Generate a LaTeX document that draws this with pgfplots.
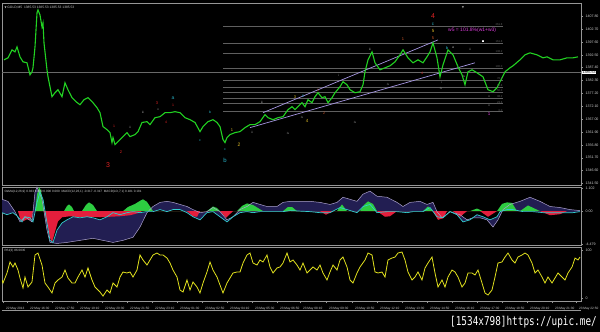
\documentclass[border=0pt]{standalone}
\usepackage{fontspec}
\setmainfont{Liberation Sans}
\newfontfamily\dejavu{DejaVu Sans}
\newfontfamily\wmfont{DejaVu Sans Mono}
\usepackage{pgfplots}
\usepackage{pgfplotstable}
\pgfplotsset{compat=1.18}

\definecolor{axgray}{RGB}{150,150,150}
\definecolor{curgray}{RGB}{105,105,105}
\definecolor{lbl}{RGB}{205,205,205}
\definecolor{pricegreen}{RGB}{34,210,34}
\definecolor{navyband}{RGB}{34,30,82}
\definecolor{lavline}{RGB}{172,162,205}
\definecolor{cyanline}{RGB}{50,205,205}
\definecolor{osmagreen}{RGB}{45,205,65}
\definecolor{osmared}{RGB}{228,30,60}
\definecolor{rsiyellow}{RGB}{225,225,30}
\definecolor{chan}{RGB}{165,150,225}
\definecolor{fibgray}{RGB}{95,95,95}
\definecolor{wred}{RGB}{225,35,35}
\definecolor{wcyan}{RGB}{40,180,200}
\definecolor{wyel}{RGB}{225,190,40}
\definecolor{worange}{RGB}{215,90,40}
\definecolor{wmag}{RGB}{220,60,220}
\definecolor{wgray}{RGB}{170,170,170}

\pgfplotstableread{
x p
4 1390.52
8 1391.31
12 1394.48
15 1393.68
17 1395.66
20 1391.71
23 1389.73
27 1389.34
28 1387.76
30 1384.59
32 1385.78
33 1387.36
35 1395.66
37 1409.10
38 1410.29
40 1408.31
42 1403.57
43 1405.15
44 1397.24
47 1386.57
48 1383.80
50 1379.85
52 1375.90
55 1377.48
58 1378.66
62 1375.90
65 1381.43
68 1378.66
72 1375.50
76 1373.92
80 1372.73
84 1374.71
88 1375.50
90 1374.71
93 1373.52
97 1371.55
100 1369.57
103 1364.04
107 1362.85
110 1361.67
112 1357.71
113 1359.69
115 1356.92
117 1357.71
120 1358.90
123 1360.08
127 1361.67
130 1360.08
135 1360.88
138 1362.06
142 1365.68
147 1366.01
150 1364.83
155 1367.59
160 1367.99
165 1369.57
170 1369.57
175 1369.97
180 1369.57
185 1367.59
190 1366.80
195 1365.68
200 1362.06
203 1364.04
208 1366.01
213 1366.80
217 1365.68
220 1364.04
223 1358.90
225 1357.71
227 1359.69
230 1360.88
235 1361.67
240 1362.06
245 1363.64
250 1364.83
255 1364.83
260 1366.01
265 1368.78
268 1367.59
273 1366.80
278 1367.59
283 1367.99
288 1370.76
292 1371.94
295 1370.76
298 1371.94
302 1373.52
305 1371.94
308 1374.71
312 1373.52
315 1375.90
318 1377.48
322 1375.50
325 1375.90
328 1373.52
332 1375.50
335 1377.48
340 1379.85
343 1381.83
347 1380.64
350 1378.66
355 1377.48
360 1377.87
363 1380.64
365 1385.78
368 1390.52
372 1393.68
375 1389.34
380 1386.57
385 1387.36
390 1388.15
395 1389.73
400 1392.50
403 1394.48
408 1391.31
413 1389.34
418 1390.52
423 1389.34
427 1391.71
430 1393.68
433 1397.24
437 1391.31
440 1383.80
443 1388.55
448 1394.48
453 1392.50
458 1387.76
462 1384.59
465 1380.64
468 1385.78
472 1386.57
477 1385.38
483 1383.80
488 1378.66
493 1377.87
497 1379.45
500 1381.83
505 1385.78
510 1387.36
513 1388.15
520 1390.52
525 1392.50
530 1393.29
537 1392.50
543 1391.31
547 1391.71
553 1390.52
560 1390.52
567 1391.31
573 1391.31
578 1391.71
}\pricetab

\pgfplotstableread{
x v
2 -0.075
7 -0.175
13 -0.075
18 -0.275
22 -0.525
25 -0.275
30 -0.325
33 -0.525
37 0.425
40 0.925
43 0.575
47 -0.575
50 -1.425
53 -1.525
57 -0.925
62 -0.575
67 -0.425
73 -0.275
80 -0.325
87 -0.275
93 -0.325
100 -0.425
107 -0.275
113 -0.075
120 -0.175
127 -0.075
133 -0.025
140 -0.075
147 -0.025
153 -0.025
160 0.075
167 -0.025
173 0.075
180 0.075
187 -0.075
193 -0.275
200 -0.425
207 -0.075
213 -0.025
220 -0.275
227 -0.525
233 -0.275
240 -0.075
247 -0.025
253 -0.075
260 -0.025
267 -0.025
273 -0.025
283 -0.025
290 0.025
300 0.000
310 -0.025
320 -0.075
330 -0.075
340 0.175
347 0.075
357 -0.075
363 0.225
370 0.325
377 -0.075
387 -0.025
397 -0.025
407 -0.075
413 -0.025
423 -0.025
430 0.175
437 -0.275
443 -0.325
450 -0.025
457 -0.175
463 -0.525
470 -0.425
477 -0.175
483 -0.275
490 -0.425
497 -0.275
500 -0.025
507 0.075
513 0.075
523 -0.025
533 -0.025
543 -0.075
553 -0.075
563 -0.075
573 -0.075
580 -0.025
}\cyantab

\pgfplotstableread{
x v
2 0.575
8 0.475
15 -0.025
20 -0.525
25 -0.275
32 -0.525
35 0.925
37 1.175
42 0.575
47 -0.925
50 -1.525
57 -1.575
67 -1.525
80 -1.425
93 -1.325
103 -1.425
113 -1.525
123 -1.425
133 -1.275
140 -0.775
147 -0.075
153 0.225
160 0.425
167 0.475
173 0.425
180 0.325
187 0.225
193 0.075
200 -0.075
207 -0.025
213 0.175
220 -0.025
227 -0.425
233 -0.275
240 0.075
247 0.225
253 0.425
260 0.325
267 0.225
277 0.225
283 0.425
290 0.475
300 0.475
310 0.475
320 0.425
330 0.325
337 0.425
343 0.675
350 0.575
357 0.475
363 0.825
370 0.975
377 0.725
387 0.675
397 0.425
403 0.225
410 0.425
420 0.475
427 0.325
433 0.425
437 -0.025
442 -0.325
450 -0.025
460 -0.175
467 -0.425
473 -0.325
480 -0.325
487 -0.425
493 -0.775
498 -0.425
503 0.075
510 0.325
520 0.475
530 0.675
540 0.475
550 0.225
560 0.175
570 0.075
580 0.025
}\lavtab

% band between cyan (forward) and lavender (reversed)
\pgfplotstableread{
x v
2 -0.075
7 -0.175
13 -0.075
18 -0.275
22 -0.525
25 -0.275
30 -0.325
33 -0.525
37 0.425
40 0.925
43 0.575
47 -0.575
50 -1.425
53 -1.525
57 -0.925
62 -0.575
67 -0.425
73 -0.275
80 -0.325
87 -0.275
93 -0.325
100 -0.425
107 -0.275
113 -0.075
120 -0.175
127 -0.075
133 -0.025
140 -0.075
147 -0.025
153 -0.025
160 0.075
167 -0.025
173 0.075
180 0.075
187 -0.075
193 -0.275
200 -0.425
207 -0.075
213 -0.025
220 -0.275
227 -0.525
233 -0.275
240 -0.075
247 -0.025
253 -0.075
260 -0.025
267 -0.025
273 -0.025
283 -0.025
290 0.025
300 0.000
310 -0.025
320 -0.075
330 -0.075
340 0.175
347 0.075
357 -0.075
363 0.225
370 0.325
377 -0.075
387 -0.025
397 -0.025
407 -0.075
413 -0.025
423 -0.025
430 0.175
437 -0.275
443 -0.325
450 -0.025
457 -0.175
463 -0.525
470 -0.425
477 -0.175
483 -0.275
490 -0.425
497 -0.275
500 -0.025
507 0.075
513 0.075
523 -0.025
533 -0.025
543 -0.075
553 -0.075
563 -0.075
573 -0.075
580 -0.025
580 0.025
570 0.075
560 0.175
550 0.225
540 0.475
530 0.675
520 0.475
510 0.325
503 0.075
498 -0.425
493 -0.775
487 -0.425
480 -0.325
473 -0.325
467 -0.425
460 -0.175
450 -0.025
442 -0.325
437 -0.025
433 0.425
427 0.325
420 0.475
410 0.425
403 0.225
397 0.425
387 0.675
377 0.725
370 0.975
363 0.825
357 0.475
350 0.575
343 0.675
337 0.425
330 0.325
320 0.425
310 0.475
300 0.475
290 0.475
283 0.425
277 0.225
267 0.225
260 0.325
253 0.425
247 0.225
240 0.075
233 -0.275
227 -0.425
220 -0.025
213 0.175
207 -0.025
200 -0.075
193 0.075
187 0.225
180 0.325
173 0.425
167 0.475
160 0.425
153 0.225
147 -0.075
140 -0.775
133 -1.275
123 -1.425
113 -1.525
103 -1.425
93 -1.325
80 -1.425
67 -1.525
57 -1.575
50 -1.525
47 -0.925
42 0.575
37 1.175
35 0.925
32 -0.525
25 -0.275
20 -0.525
15 -0.025
8 0.475
2 0.575
}\bandtab

\pgfplotstableread{
x v
35 0
37 0.8
39 1.175
41 1.0
43 0.3
44 0
64 0
67 0.25
69 0.325
72 0.2
74 0
82 0
86 0.3
89 0.425
93 0.3
97 0
123 0
128 0.2
135 0.35
140 0.5
143 0.575
147 0.45
153 0
207 0
211 0.15
213 0.225
217 0.15
220 0
237 0
242 0.25
247 0.375
253 0.3
258 0.15
263 0
283 0
288 0.2
292 0.2
297 0
337 0
342 0.325
347 0
360 0
364 0.3
368 0.475
373 0.35
377 0
423 0
428 0.225
433 0
470 0
477 0.125
483 0
497 0
502 0.35
507 0.425
512 0.4
517 0
520 0
528 0.275
540 0
}\osmapos

\pgfplotstableread{
x v
18 0
20 -0.35
23 -0.5
27 -0.4
31 -0.45
33 0
44 0
47 -0.6
50 -1.3
52 -1.525
55 -1.0
58 -0.5
62 -0.3
70 -0.25
80 -0.3
90 -0.275
100 -0.3
110 -0.275
120 -0.25
130 -0.2
138 -0.1
142 0
187 0
193 -0.25
197 -0.275
200 0
220 0
226 -0.325
233 0
320 0
326 -0.175
333 0
377 0
385 -0.275
390 -0.25
397 0
433 0
438 -0.425
443 -0.35
447 0
453 0
460 -0.275
467 0
480 0
488 -0.275
497 0
540 0
550 -0.2
560 -0.15
567 0
}\osmaneg

\pgfplotstableread{
x r
2 37.5
3 31.2
7 52.1
10 75.0
13 64.6
15 72.9
18 58.3
20 41.7
23 20.8
25 43.7
28 22.9
32 33.3
35 89.6
38 93.7
42 68.7
45 31.2
48 22.9
52 10.4
55 31.2
58 37.5
62 43.7
65 58.3
68 41.7
72 31.2
75 31.2
78 43.7
82 58.3
85 43.7
88 62.5
92 37.5
95 22.9
100 12.5
103 4.0
107 16.7
110 10.4
113 31.2
117 22.9
120 43.7
123 54.2
127 52.1
130 54.2
133 43.7
137 58.3
140 89.6
143 79.2
147 68.7
150 79.2
153 89.6
157 93.7
160 89.6
163 89.6
167 83.3
170 72.9
173 58.3
177 43.7
180 16.7
183 12.5
187 37.5
190 16.7
193 33.3
197 22.9
200 10.4
203 31.2
207 54.2
210 75.0
213 58.3
217 43.7
220 27.1
223 10.4
227 31.2
230 41.7
233 52.1
237 54.2
240 54.2
243 72.9
247 89.6
250 93.7
253 72.9
257 68.7
260 79.2
263 75.0
267 89.6
270 64.6
273 52.1
277 62.5
280 64.6
283 72.9
287 93.7
290 75.0
293 79.2
297 68.7
300 58.3
303 72.9
307 52.1
310 58.3
313 64.6
317 58.3
320 68.7
323 52.1
327 37.5
330 54.2
333 68.7
337 58.3
340 79.2
343 85.4
347 64.6
350 37.5
353 31.2
357 52.1
360 64.6
365 79.2
368 93.7
372 89.6
375 54.2
378 52.1
382 54.2
385 43.7
388 79.2
392 83.3
395 85.4
398 93.7
402 95.8
405 79.2
408 54.2
412 37.5
415 43.7
418 54.2
422 37.5
425 62.5
428 72.9
432 85.4
435 52.1
438 22.9
442 37.5
445 22.9
448 43.7
452 58.3
455 54.2
458 43.7
462 22.9
465 31.2
468 52.1
472 52.1
475 47.9
478 58.3
482 31.2
485 10.4
488 6.2
492 16.7
495 43.7
498 72.9
502 75.0
505 85.4
508 93.7
512 79.2
515 72.9
518 85.4
522 89.6
525 93.7
528 89.6
532 72.9
535 52.1
538 58.3
542 43.7
545 31.2
548 43.7
552 31.2
555 41.7
558 52.1
562 43.7
565 37.5
568 52.1
572 64.6
575 83.3
578 79.2
580 85.4
}\rsitab

\pgfplotsset{
  mtpanel/.style={
    scale only axis, width=579bp, xmin=2, xmax=581,
    anchor=south west,
    axis background/.style={fill=black},
    axis line style={draw=axgray, line width=0.6bp},
    ytick pos=right, yticklabel pos=right,
    tick align=outside, major tick length=2bp,
    tick style={draw=axgray, line width=0.4bp},
    ticklabel style={font=\fontsize{3.6}{4}\selectfont, text=lbl},
    yticklabel style={anchor=west, xshift=-1bp},
  },
}
\newcommand\wl[5]{\node[font=\fontsize{#5}{#5}\selectfont, text=#3, inner sep=0pt] at (axis cs:#1,#2) {#4};}
\newcommand\fl[2]{\node[font=\fontsize{2.8}{3}\selectfont, text=fibgray, anchor=south east, inner sep=0.3bp] at (axis cs:503,#1) {#2};}

\begin{document}
\begin{tikzpicture}
\useasboundingbox (0,0) rectangle (600bp,332bp);
\fill[black] (0,0) rectangle (600bp,332bp);

% ---------- main price panel ----------
\begin{axis}[mtpanel, at={(2bp,147bp)}, height=182bp,
  ymin=1340.9, ymax=1413.05, xtick=\empty,
  ytick={1341.5,1346.6,1351.7,1356.8,1361.9,1367.0,1372.1,1377.2,1382.3,1387.4,1392.5,1397.6,1402.7,1407.8},
  yticklabels={1341.50,1346.60,1351.70,1356.80,1361.90,1367.00,1372.10,1377.20,1382.30,1387.40,1392.50,1397.60,1402.70,1407.80}]
% fib levels
\addplot[fibgray, line width=0.4bp] coordinates {(223,1403.96) (503,1403.96)};
\addplot[fibgray, line width=0.4bp] coordinates {(223,1397.24) (503,1397.24)};
\addplot[fibgray, line width=0.4bp] coordinates {(223,1393.29) (503,1393.29)};
\addplot[fibgray, line width=0.4bp] coordinates {(223,1387.36) (503,1387.36)};
\addplot[fibgray, line width=0.4bp] coordinates {(223,1382.62) (503,1382.62)};
\addplot[fibgray, line width=0.4bp] coordinates {(223,1379.85) (503,1379.85)};
\addplot[fibgray, line width=0.4bp] coordinates {(223,1377.87) (503,1377.87)};
\addplot[fibgray, line width=0.4bp] coordinates {(223,1375.50) (503,1375.50)};
\addplot[fibgray, line width=0.4bp] coordinates {(223,1373.13) (503,1373.13)};
\addplot[fibgray, line width=0.4bp] coordinates {(223,1369.97) (503,1369.97)};
% current price line
\addplot[curgray, line width=0.5bp] coordinates {(2,1385.53) (581,1385.53)};
% channel
\addplot[chan, line width=0.7bp] coordinates {(250,1363.64) (475,1389.34)};
\addplot[chan, line width=0.7bp] coordinates {(263,1369.57) (438,1398.43)};
% price
\addplot[pricegreen, line width=1.1bp] table[x=x, y=p] {\pricetab};
\coordinate (cp) at (axis cs:581,1385.53);
% fib labels
\fl{1403.96}{261.8}
\fl{1397.24}{161.8}
\fl{1393.29}{138.2}
\fl{1387.36}{100.0}
\fl{1382.62}{76.4}
\fl{1379.85}{61.8}
\fl{1377.87}{50.0}
\fl{1375.50}{38.2}
\fl{1373.13}{23.6}
\fl{1369.97}{0.0}
% wave labels
\wl{108}{1348.62}{wred}{3}{7}
\wl{433}{1407.90}{wred}{4}{7}
\wl{173}{1375.50}{wcyan}{a}{5}
\wl{225}{1350.60}{wcyan}{b}{6}
\wl{433}{1404.75}{wcyan}{c}{4.5}
\wl{433}{1401.99}{wyel}{5}{4.5}
\wl{433}{1399.22}{worange}{5}{4}
\wl{403}{1398.80}{worange}{1}{4}
\wl{239}{1356.92}{wyel}{2}{5}
\wl{232}{1362.46}{wyel}{1}{4}
\wl{295}{1375.90}{wyel}{3}{4}
\wl{303}{1375.90}{wcyan}{5}{3.5}
\wl{307}{1366.40}{wyel}{4}{4.5}
\wl{318}{1378.30}{worange}{1}{3.5}
\wl{324}{1369.20}{worange}{2}{3.5}
\wl{489}{1369.17}{wmag}{1}{4.5}
\wl{422}{1384.99}{wred}{4}{3.5}
\wl{114}{1364.04}{wred}{1}{3.5}
\wl{121}{1353.76}{wred}{2}{4}
\wl{157}{1373.52}{wred}{3}{4}
\wl{173}{1372.33}{wred}{1}{3.5}
\wl{166}{1365.62}{wred}{4}{3.5}
\wl{210}{1369.57}{wcyan}{b}{3.5}
\wl{200}{1358.50}{wcyan}{c}{3.5}
\wl{225}{1354.90}{wcyan}{c}{3.5}
\wl{447}{1395.26}{wcyan}{b}{4}
\wl{453}{1395.26}{wgray}{a}{3.5}
\wl{143}{1369.57}{wgray}{iii}{3}
\wl{158}{1370.76}{wgray}{v}{3}
\wl{130}{1363.64}{wgray}{ii}{3}
\wl{252}{1361.67}{wgray}{ii}{3}
\wl{262}{1373.52}{wgray}{iii}{3}
\wl{288}{1361.30}{wgray}{iv}{3}
\wl{355}{1365.60}{wgray}{iv}{3}
\wl{302}{1367.60}{wgray}{iv}{3}
\wl{370}{1394.60}{wgray}{iii}{3}
\wl{339}{1384.20}{wgray}{i}{3}
\wl{388}{1380.70}{wgray}{iv}{3}
\wl{441}{1379.00}{wgray}{iv}{3}
\wl{442}{1381.40}{wgray}{i}{3}
\wl{464}{1384.00}{wgray}{iv}{3}
\wl{489}{1372.50}{wgray}{v}{3}
\wl{489}{1375.80}{wgray}{v}{3}
\wl{470}{1394.70}{wgray}{ii}{3}
\node[font=\fontsize{5}{5}\selectfont, text=wmag, anchor=west, inner sep=0pt] at (axis cs:448,1402.20) {w5 = 101.8\%(w1+w3)};
\node[fill=white, text=black, inner sep=0.5bp, font=\fontsize{3}{3}\selectfont] at (axis cs:483,1398.03) {x};
\node[font=\fontsize{3.3}{3.5}\selectfont, text=lbl, anchor=north west, inner sep=0pt] at (rel axis cs:0.004,0.985) {{\dejavu\fontsize{2.6}{3}\selectfont ▼} GOLD,M5\ \ 1385.53 1385.53 1385.53 1385.53};
\node[font=\fontsize{3}{3}\selectfont, text=axgray, inner sep=0pt] at (axis cs:463,1411.2) {\dejavu ▼};
\end{axis}
\node[fill=white, text=black, inner sep=0.4bp, anchor=west, font=\fontsize{3.6}{4}\selectfont] at ([xshift=1bp]cp) {1385.53};

% ---------- OsMA / MACD panel ----------
\begin{axis}[mtpanel, at={(2bp,86.5bp)}, height=58.5bp,
  ymin=-1.675, ymax=1.175, xtick=\empty,
  ytick={1.102,0,-1.6}, yticklabels={1.102,0.00,-4.479}]
\addplot[fill=navyband, draw=none, even odd rule] table[x=x, y=v] {\bandtab};
\addplot[fill=osmagreen, draw=none] table[x=x, y=v] {\osmapos};
\addplot[fill=osmared, draw=none] table[x=x, y=v] {\osmaneg};
\addplot[lavline, line width=0.5bp] table[x=x, y=v] {\lavtab};
\addplot[cyanline, line width=0.7bp] table[x=x, y=v] {\cyantab};
\node[font=\fontsize{3.1}{3.5}\selectfont, text=lbl, anchor=north west, inner sep=0pt] at (rel axis cs:0.004,0.95) {OsMA(12,26,9) 0.363 0.000 0.000 0.000\ \ MACD(12,26,1) -0.317 -0.317\ \ MACD(LO,7,1) 0.181 0.181};
\end{axis}

% ---------- RSI panel ----------
\begin{axis}[mtpanel, at={(2bp,30.5bp)}, height=54.5bp,
  ymin=-7.3, ymax=106.25,
  ytick={0,100}, yticklabels={0,100},
  xtick pos=bottom,
  xtick={3,27,52,77,102,127,152,177,202,227,252,277,300,326,352,377,402,427,452,477,502,527,552,576},
  xticklabels={22 May 2013,22 May 16:30,22 May 17:50,22 May 19:10,22 May 20:30,22 May 21:50,22 May 23:10,23 May 01:30,23 May 02:50,23 May 04:10,23 May 05:30,23 May 06:50,23 May 08:10,23 May 09:30,23 May 10:50,23 May 12:10,23 May 13:30,23 May 14:50,23 May 16:10,23 May 17:30,23 May 18:50,23 May 20:10,23 May 21:30,23 May 22:50},
  xticklabel style={anchor=north west, xshift=-0.5bp, font=\fontsize{3.2}{3.5}\selectfont}]
\addplot[rsiyellow, line width=0.8bp] table[x=x, y=r] {\rsitab};
\node[font=\fontsize{3.1}{3.5}\selectfont, text=lbl, anchor=north west, inner sep=0pt] at (rel axis cs:0.004,0.96) {RSI(3) 86.0035};
\end{axis}

\draw[axgray, line width=0.6bp] (2bp,22bp) -- (581bp,22bp);
\node[anchor=south east, text=white, inner sep=0pt] at (597bp,4bp)
  {\scalebox{1}[1.3]{\wmfont\fontsize{9.4}{10}\selectfont [1534x798]https://upic.me/}};
\end{tikzpicture}
\end{document}
